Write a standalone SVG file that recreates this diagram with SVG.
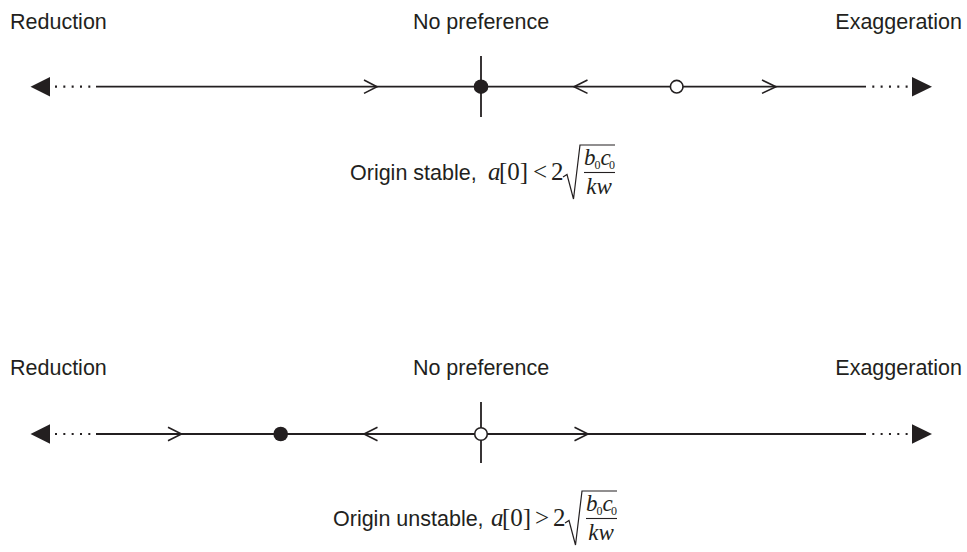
<svg xmlns="http://www.w3.org/2000/svg" width="967" height="552" viewBox="0 0 967 552">
<style>
.lab{font-family:"Liberation Sans",Arial,sans-serif;font-size:21.5px;fill:#231f20}
.mi{font-family:"Liberation Serif","Times New Roman",serif;font-style:italic;fill:#231f20}
.mr{font-family:"Liberation Serif","Times New Roman",serif;fill:#231f20}
.ax{stroke:#231f20;stroke-width:1.8;fill:none}
.dot{stroke:#231f20;stroke-width:2.2;stroke-dasharray:2 6.33;fill:none}
.chev{stroke:#231f20;stroke-width:1.6;fill:none}
.tri{fill:#231f20}
.rad{stroke:#231f20;stroke-width:1.2;fill:none}
</style>
<rect width="967" height="552" fill="#fff"/>
<g id="connectors">
  <g id="top-axis">
    <line class="ax" x1="96" y1="86.7" x2="866" y2="86.7"/>
    <line class="dot" x1="55" y1="86.7" x2="92" y2="86.7"/>
    <line class="dot" x1="872.3" y1="86.7" x2="909" y2="86.7"/>
    <polygon class="tri" points="30.5,86.7 50,77 50,96.5"/>
    <polygon class="tri" points="932,86.7 912,77 912,96.5"/>
    <line class="ax" x1="481" y1="56" x2="481" y2="117"/>
    <polyline class="chev" points="364,80 377,86.7 364,93.4"/>
    <polyline class="chev" points="587.5,80 574,86.7 587.5,93.4"/>
    <polyline class="chev" points="762,80 776,86.7 762,93.4"/>
  </g>
  <g id="bottom-axis">
    <line class="ax" x1="96" y1="434" x2="866" y2="434"/>
    <line class="dot" x1="55" y1="434" x2="92" y2="434"/>
    <line class="dot" x1="872.3" y1="434" x2="909" y2="434"/>
    <polygon class="tri" points="30.5,434 50,424.3 50,443.8"/>
    <polygon class="tri" points="932,434 912,424.3 912,443.8"/>
    <line class="ax" x1="481" y1="402" x2="481" y2="463"/>
    <polyline class="chev" points="168,427.3 181.5,434 168,440.7"/>
    <polyline class="chev" points="377.5,427.3 364,434 377.5,440.7"/>
    <polyline class="chev" points="574.5,427.3 588,434 574.5,440.7"/>
  </g>
</g>
<g id="top-labels">
  <text class="lab" x="10" y="29">Reduction</text>
  <text class="lab" x="481" y="29" text-anchor="middle">No preference</text>
  <text class="lab" x="962" y="29" text-anchor="end">Exaggeration</text>
</g>
<g id="top-stable-point"><circle cx="481" cy="86.7" r="7.3" fill="#231f20"/></g>
<g id="top-unstable-point"><circle cx="676.7" cy="86.7" r="6.3" fill="#fff" stroke="#231f20" stroke-width="1.6"/></g>
<g id="top-caption">
  <text class="lab" x="350" y="180">Origin stable,</text>
  <text class="mi" x="488" y="180" font-size="25">a</text>
  <text class="mr" x="499" y="180" font-size="25">[0]</text>
  <text class="mr" x="533" y="180" font-size="25">&lt;</text>
  <text class="mr" x="551" y="180" font-size="25">2</text>
  <path class="rad" d="M563,177 L567,174.5 L573.5,199 L580,145 L615,145"/>
  <text class="mi" x="584" y="165" font-size="23">b</text>
  <text class="mr" x="594.5" y="169" font-size="12">0</text>
  <text class="mi" x="600.5" y="165" font-size="23">c</text>
  <text class="mr" x="609" y="169" font-size="12">0</text>
  <line x1="584" y1="172.5" x2="615" y2="172.5" stroke="#231f20" stroke-width="1.1"/>
  <text class="mi" x="599" y="194" font-size="23" text-anchor="middle">kw</text>
</g>
<g id="bottom-labels">
  <text class="lab" x="10" y="375">Reduction</text>
  <text class="lab" x="481" y="375" text-anchor="middle">No preference</text>
  <text class="lab" x="962" y="375" text-anchor="end">Exaggeration</text>
</g>
<g id="bottom-stable-point"><circle cx="280.7" cy="434" r="7.3" fill="#231f20"/></g>
<g id="bottom-unstable-point"><circle cx="481" cy="434" r="6.3" fill="#fff" stroke="#231f20" stroke-width="1.6"/></g>
<g id="bottom-caption">
  <text class="lab" x="333" y="526">Origin unstable,</text>
  <text class="mi" x="491" y="526" font-size="25">a</text>
  <text class="mr" x="502" y="526" font-size="25">[0]</text>
  <text class="mr" x="535" y="526" font-size="25">&gt;</text>
  <text class="mr" x="553" y="526" font-size="25">2</text>
  <path class="rad" d="M565,523 L569,520.5 L575.5,545 L582,491 L617,491"/>
  <text class="mi" x="586" y="511" font-size="23">b</text>
  <text class="mr" x="596.5" y="515" font-size="12">0</text>
  <text class="mi" x="602.5" y="511" font-size="23">c</text>
  <text class="mr" x="611" y="515" font-size="12">0</text>
  <line x1="586" y1="518.5" x2="617" y2="518.5" stroke="#231f20" stroke-width="1.1"/>
  <text class="mi" x="601" y="540" font-size="23" text-anchor="middle">kw</text>
</g>
</svg>
